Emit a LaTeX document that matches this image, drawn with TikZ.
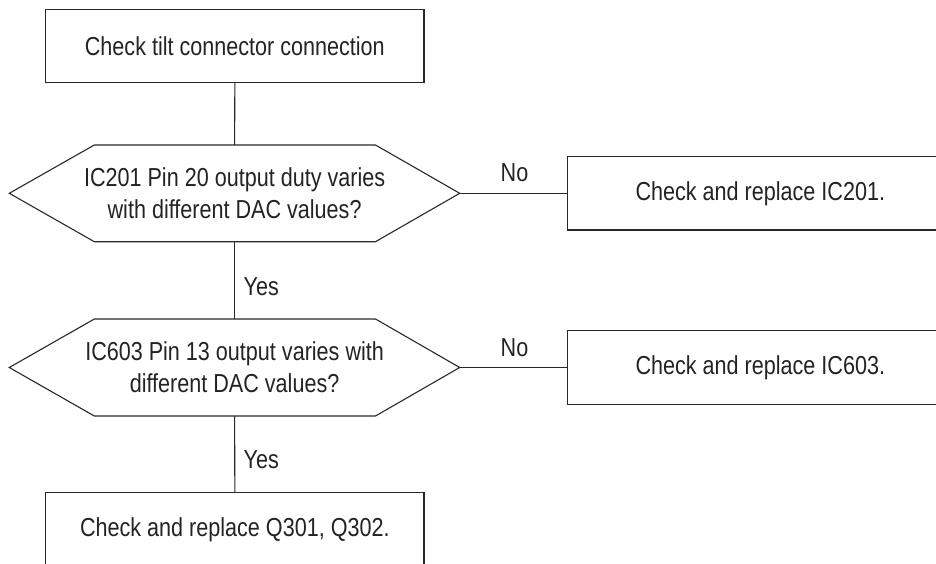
\documentclass[tikz,border=0pt]{standalone}
\usepackage{fontspec}
\setmainfont{Liberation Sans}[FakeStretch=0.83]
\definecolor{ink}{RGB}{40,40,40}
\definecolor{txt}{RGB}{35,35,35}
\tikzset{
  boxnode/.style={draw=ink, line width=1.1pt, rectangle, minimum width=378.3pt, minimum height=73.4pt, inner sep=0pt, text=txt, font=\fontsize{26}{32}\selectfont},
  sidebox/.style={boxnode, minimum width=386pt},
  dectext/.style={inner sep=0pt, align=center, text=txt, font=\fontsize{26}{32}\selectfont},
  lbl/.style={inner sep=0pt, text=txt, font=\fontsize{26}{32}\selectfont},
  conn/.style={draw=ink, line width=1.1pt},
  hexa/.style={draw=ink, line width=1.1pt, line join=miter}
}
\begin{document}
\begin{tikzpicture}[x=1pt,y=-1pt]
\useasboundingbox (0,0) rectangle (936,564);
\clip (0,0) rectangle (936,564);
% top box
\node[boxnode] (b0) at (234.85,46) {Check tilt connector connection};
% decision 1
\node[dectext] (d1) at (234.6,193.3) {IC201 Pin 20 output duty varies\\with different DAC values?};
\coordinate (d1n) at (234.6,145);
\coordinate (d1s) at (234.6,241.7);
\coordinate (d1w) at (9.3,193.3);
\coordinate (d1e) at (459.7,193.3);
\draw[hexa] (d1w) -- (94.3,145) -- (375.5,145) -- (d1e) -- (375.5,241.7) -- (94.3,241.7) -- cycle;
% decision 2
\node[dectext] (d2) at (234.6,367.5) {IC603 Pin 13 output varies with\\different DAC values?};
\coordinate (d2n) at (234.6,319);
\coordinate (d2s) at (234.6,416);
\coordinate (d2w) at (9.3,367.5);
\coordinate (d2e) at (459.7,367.5);
\draw[hexa] (d2w) -- (94.3,319) -- (375.5,319) -- (d2e) -- (375.5,416) -- (94.3,416) -- cycle;
% side boxes
\node[sidebox] (r1) at (760.3,193.3) {Check and replace IC201.};
\node[sidebox] (r2) at (760.3,367.5) {Check and replace IC603.};
% bottom box
\node[boxnode] (b3) at (234.85,529.5) {Check and replace Q301, Q302.};
% connectors
\draw[conn] (b0.south) -- (d1n);
\draw[conn] (d1s) -- (d2n);
\draw[conn] (d2s) -- (b3.north);
\draw[conn] (d1e) -- (r1.west);
\draw[conn] (d2e) -- (r2.west);
% labels
\node[lbl, anchor=base] (no1) at (514.5,182) {No};
\node[lbl, anchor=base] (no2) at (514.5,356.5) {No};
\node[lbl, anchor=base west] (yes1) at (243.5,295) {Yes};
\node[lbl, anchor=base west] (yes2) at (243.5,468.5) {Yes};
\end{tikzpicture}
\end{document}
